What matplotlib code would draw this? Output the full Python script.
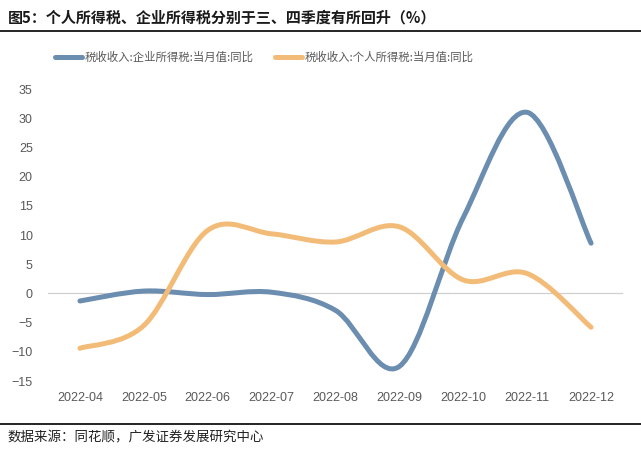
import numpy as np
import matplotlib
matplotlib.use('Agg')
import matplotlib.pyplot as plt
from matplotlib.path import Path
from matplotlib.patches import PathPatch
from matplotlib.lines import Line2D

plt.rcParams['font.family'] = ['Noto Sans CJK SC', 'DejaVu Sans']

# data
months = ['2022-04', '2022-05', '2022-06', '2022-07', '2022-08',
          '2022-09', '2022-10', '2022-11', '2022-12']
corp_tax = [-1.3, 0.4, -0.2, 0.2, -2.9, -12.5, 13.0, 31.0, 8.6]
indiv_tax = [-9.4, -5.5, 10.8, 10.2, 8.8, 11.4, 2.3, 3.4, -5.8]

label_corp = '税收收入:企业所得税:当月值:同比'
label_indiv = '税收收入:个人所得税:当月值:同比'
title = '图5：个人所得税、企业所得税分别于三、四季度有所回升（%）'
source = '数据来源：同花顺，广发证券发展研究中心'

blue = '#6A8DB0'
orange = '#F2BC78'
gray = '#595959'


def smooth_path(xs, ys):
    # Catmull-Rom style bezier, like the "smoothed line" option in Excel
    pts = np.column_stack([xs, ys]).astype(float)
    verts = [pts[0]]
    codes = [Path.MOVETO]
    n = len(pts)
    for i in range(n - 1):
        p0 = pts[i - 1] if i > 0 else pts[i]
        p1 = pts[i]
        p2 = pts[i + 1]
        p3 = pts[i + 2] if i + 2 < n else pts[i + 1]
        c1 = p1 + (p2 - p0) / 6.0
        c2 = p2 - (p3 - p1) / 6.0
        verts += [c1, c2, p2]
        codes += [Path.CURVE4] * 3
    return Path(verts, codes)


fig = plt.figure(figsize=(6.41, 4.49), dpi=100)
ax = fig.add_axes([48 / 641, 68 / 449, 575 / 641, 292 / 449])

x = np.arange(len(months))
for vals, col in [(corp_tax, blue), (indiv_tax, orange)]:
    patch = PathPatch(smooth_path(x, vals), facecolor='none', edgecolor=col,
                      lw=3.6, capstyle='round', joinstyle='round')
    ax.add_patch(patch)

ax.axhline(0, color='#D0D0D0', lw=0.9, zorder=0)
ax.set_xlim(-0.5, len(months) - 0.5)
ax.set_ylim(-15, 35)
ax.set_yticks(np.arange(-15, 36, 5))
ax.set_xticks(x)
ax.set_xticklabels(months)
for s in ax.spines.values():
    s.set_visible(False)
ax.tick_params(length=0, labelsize=9, colors=gray, pad=8)
for lab in ax.get_xticklabels() + ax.get_yticklabels():
    lab.set_family(['Liberation Sans', 'DejaVu Sans'])
ax.tick_params(axis='y', pad=11)

handles = [Line2D([], [], color=blue, lw=3.6, solid_capstyle='round'),
           Line2D([], [], color=orange, lw=3.6, solid_capstyle='round')]
fig.legend(handles, [label_corp, label_indiv], loc='center',
           bbox_to_anchor=(0.412, 1 - 57 / 449), ncol=2, frameon=False,
           fontsize=8.2, labelcolor=gray, handlelength=2.4, handletextpad=0.2,
           columnspacing=1.9)

fig.text(8 / 641, 1 - 17 / 449, title, fontsize=10.8, fontweight='bold',
         color='#1a1a1a', va='center', ha='left')
fig.add_artist(Line2D([0, 1], [1 - 31 / 449] * 2, color='black', lw=1.2))
fig.add_artist(Line2D([0, 1], [1 - 424 / 449] * 2, color='black', lw=1.2))
fig.text(8 / 641, 1 - 437 / 449, source, fontsize=9.7, color='#222222',
         va='center', ha='left')

fig.savefig('out.png', dpi=100)
